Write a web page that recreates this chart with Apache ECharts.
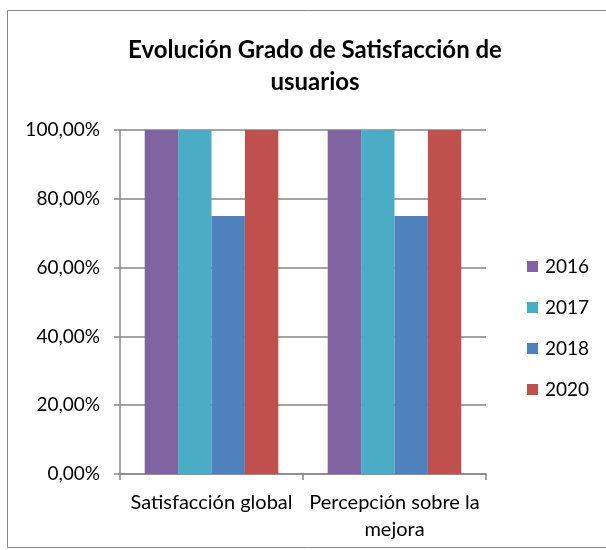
<!DOCTYPE html>
<html>
<head>
<meta charset="utf-8">
<script src="https://cdn.jsdelivr.net/npm/echarts@6/dist/echarts.min.js"></script>
<style>
  html, body { margin: 0; padding: 0; background: #fff; }
  #chart { width: 606px; height: 550px; }
</style>
</head>
<body>
<div id="chart"></div>
<script>
const titleText = 'Evolución Grado de Satisfacción de\nusuarios';
const categories = ['Satisfacción global', 'Percepción sobre la\nmejora'];
const years = ['2016', '2017', '2018', '2020'];
const colors = ['#8064A2', '#4BACC6', '#4F81BD', '#C0504D'];
const values2016 = [100, 100];
const values2017 = [100, 100];
const values2018 = [75, 75];
const values2020 = [100, 100];
const seriesValues = [values2016, values2017, values2018, values2020];

const font = 'Lato, "Open Sans", sans-serif';
const gray = '#868686';

const chart = echarts.init(document.getElementById('chart'));

const option = {
  animation: false,
  backgroundColor: '#fff',
  textStyle: { fontFamily: font },
  graphic: [{
    type: 'rect',
    shape: { x: 7.5, y: 10.5, width: 640, height: 537 },
    style: { fill: 'none', stroke: gray, lineWidth: 1 },
    silent: true
  }],
  title: {
    text: titleText,
    left: 310,
    textAlign: 'center',
    top: 29,
    textStyle: {
      fontFamily: font,
      fontWeight: 'bold',
      fontSize: 24,
      lineHeight: 32,
      color: '#000'
    }
  },
  legend: {
    orient: 'vertical',
    left: 522,
    top: 252,
    itemWidth: 11,
    itemHeight: 11,
    itemGap: 22,
    icon: 'rect',
    data: years,
    textStyle: { fontFamily: font, fontSize: 19, color: '#000', padding: [0, 0, 0, 2] }
  },
  grid: {
    left: 120,
    right: 120,
    top: 130,
    bottom: 76,
    containLabel: false
  },
  xAxis: {
    type: 'category',
    data: categories,
    axisLine: { show: true, lineStyle: { color: gray, width: 1.5 } },
    axisTick: { show: true, alignWithLabel: false, length: 6, lineStyle: { color: gray, width: 1.5 } },
    axisLabel: {
      fontFamily: font,
      fontSize: 20,
      color: '#000',
      margin: 15,
      lineHeight: 27,
      interval: 0
    }
  },
  yAxis: {
    type: 'value',
    min: 0,
    max: 100,
    interval: 20,
    axisLine: { show: true, lineStyle: { color: gray, width: 1.5 } },
    axisTick: { show: true, length: 6, lineStyle: { color: gray, width: 1.5 } },
    splitLine: { show: true, lineStyle: { color: gray, width: 1.5 } },
    axisLabel: {
      fontFamily: font,
      fontSize: 19,
      color: '#000',
      margin: 20,
      formatter: (v) => v.toFixed(2).replace('.', ',') + '%'
    }
  },
  series: years.map((year, i) => ({
    name: year,
    type: 'bar',
    data: seriesValues[i],
    barGap: '0%',
    barCategoryGap: '27%',
    itemStyle: { color: colors[i] }
  }))
};

chart.setOption(option);
</script>
</body>
</html>
